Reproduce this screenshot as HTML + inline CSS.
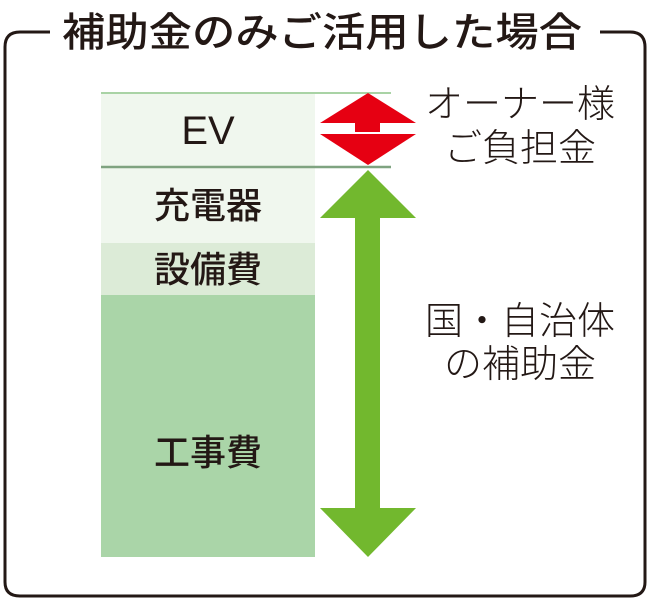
<!DOCTYPE html>
<html><head><meta charset="utf-8"><style>
html,body{margin:0;padding:0;background:#fff;}
svg{display:block;}
text{font-family:"Liberation Sans","Noto Sans CJK JP",sans-serif;}
</style></head><body>
<svg width="650" height="598" viewBox="0 0 650 598" xmlns="http://www.w3.org/2000/svg">
<path d="M50 32 H20 Q5 32 5 47 V582 Q5 596 20 596 H630 Q645 596 645 582 V47 Q645 32 630 32 H600" fill="none" stroke="#231815" stroke-width="3"/>
<text x="322" y="46" font-size="40" font-weight="500" fill="#231815" text-anchor="middle" textLength="520" lengthAdjust="spacingAndGlyphs">補助金のみご活用した場合</text>
<rect x="101" y="93" width="214" height="74" fill="#f0f7ee"/>
<rect x="101" y="167" width="214" height="76" fill="#f0f7ee"/>
<rect x="101" y="243" width="214" height="52" fill="#dcebd7"/>
<rect x="101" y="295" width="214" height="262" fill="#aad5a8"/>
<line x1="101" y1="93" x2="391" y2="93" stroke="#a9d3a5" stroke-width="2"/>
<line x1="101" y1="167" x2="391" y2="167" stroke="#7fa380" stroke-width="2.5"/>
<text x="208" y="144" font-size="40" fill="#231815" text-anchor="middle">EV</text>
<text x="208" y="218" font-size="36" font-weight="500" fill="#231815" text-anchor="middle">充電器</text>
<text x="208" y="282" font-size="36" font-weight="500" fill="#231815" text-anchor="middle">設備費</text>
<text x="208" y="465" font-size="36" font-weight="500" fill="#231815" text-anchor="middle">工事費</text>
<polygon points="368,93 416,123 380,123 380,132 355,132 355,123 320,123" fill="#e60012"/>
<polygon points="320,134 416,134 368,165" fill="#e60012"/>
<polygon points="368,170 416,218 380,218 380,508 416,508 368,557 320,508 355,508 355,218 320,218" fill="#72b82e"/>
<g font-size="38" fill="#231815" text-anchor="middle" font-weight="300">
<text x="520" y="117">オーナー様</text>
<text x="520" y="161">ご負担金</text>
<text x="520" y="334">国・自治体</text>
<text x="520" y="377">の補助金</text>
</g>
</svg>
</body></html>
